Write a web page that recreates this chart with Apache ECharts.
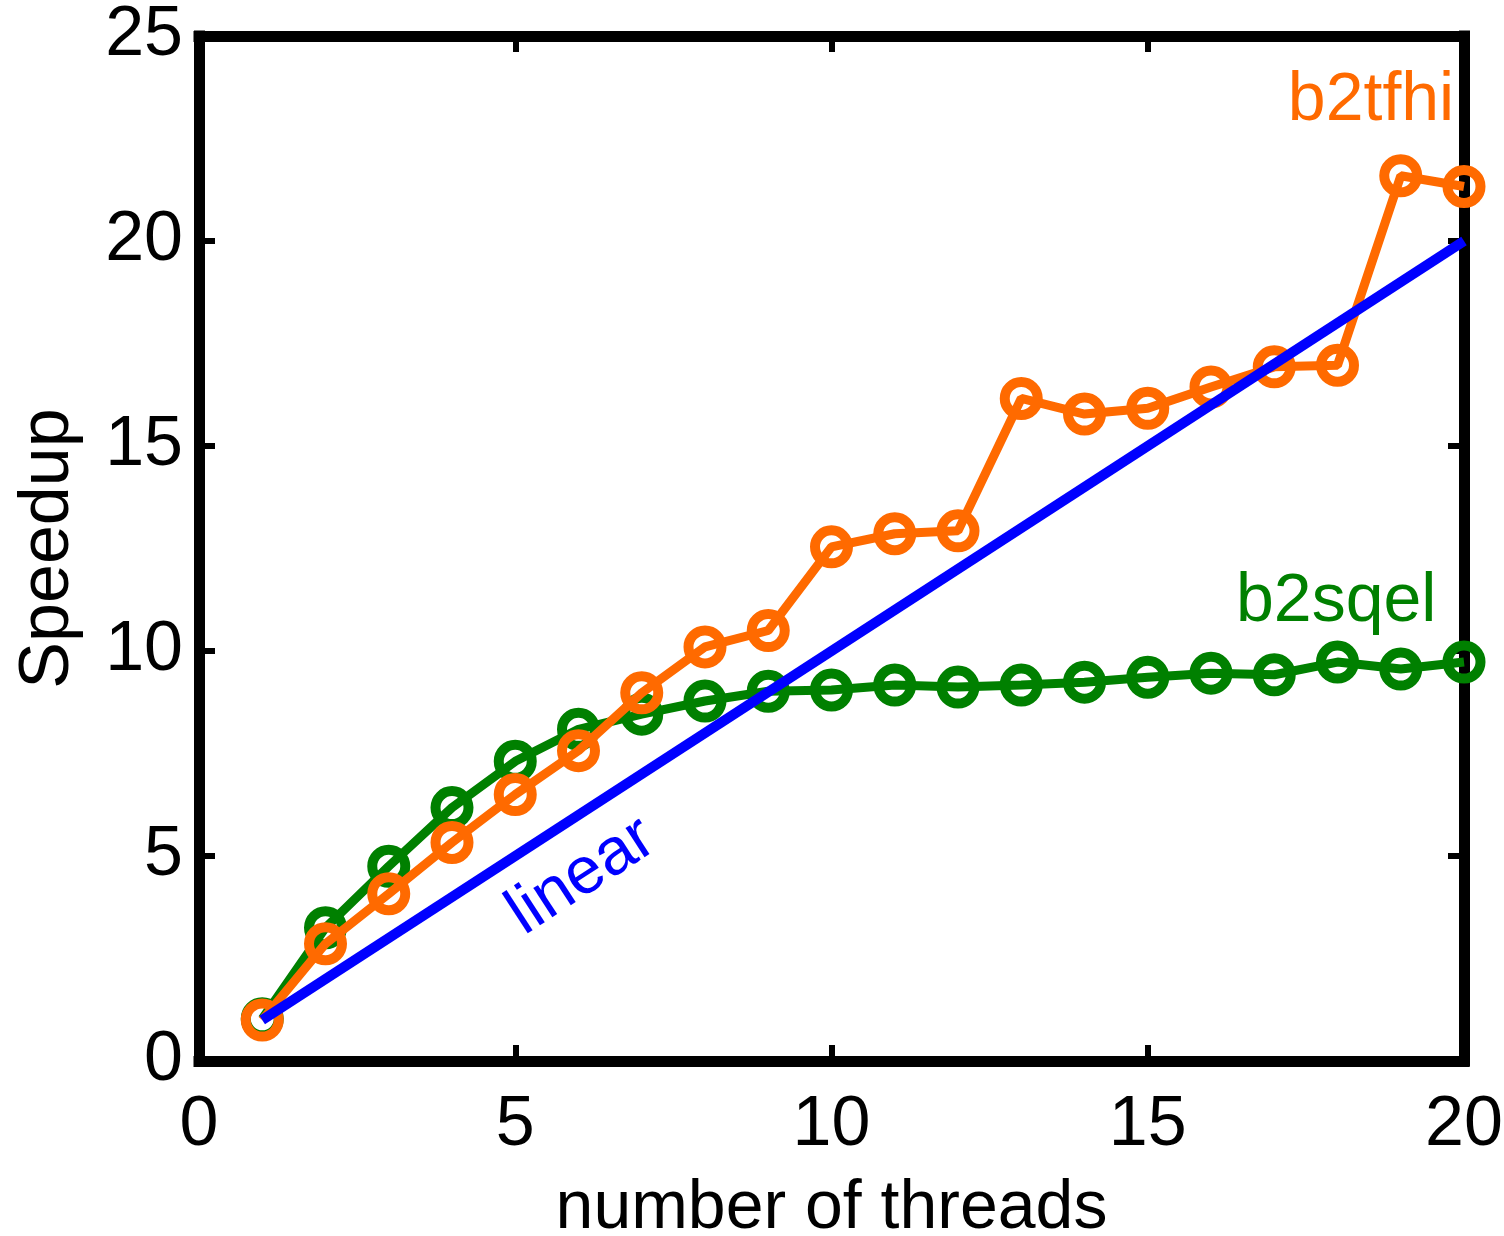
<!DOCTYPE html>
<html>
<head>
<meta charset="utf-8">
<script src="https://cdn.jsdelivr.net/npm/echarts@6/dist/echarts.min.js"></script>
<style>
  html, body { margin: 0; padding: 0; background: #fff; }
  #chart { width: 1504px; height: 1236px; }
</style>
</head>
<body>
<div id="chart"></div>
<script>
const threads = [1, 2, 3, 4, 5, 6, 7, 8, 9, 10, 11, 12, 13, 14, 15, 16, 17, 18, 19, 20];
const b2tfhi = [1.0, 2.86, 4.08, 5.33, 6.5, 7.57, 8.98, 10.1, 10.5, 12.54, 12.86, 12.93, 16.16, 15.78, 15.92, 16.44, 16.93, 16.97, 21.59, 21.33];
const b2sqel = [1.03, 3.25, 4.75, 6.18, 7.31, 8.09, 8.46, 8.78, 9.02, 9.05, 9.17, 9.12, 9.17, 9.24, 9.36, 9.46, 9.42, 9.73, 9.56, 9.73];
const linearX = [1, 20];
const linearY = [1, 20];
const xTicks = [0, 5, 10, 15, 20];
const yTicks = [0, 5, 10, 15, 20, 25];

const FONT = '"Liberation Sans", Arial, Helvetica, sans-serif';
const ORANGE = '#ff6a00';
const GREEN = '#008000';
const BLUE = '#0000ff';

function pairs(xs, ys) { return xs.map((x, i) => [x, ys[i]]); }

const axisLine = { show: true, onZero: false, lineStyle: { color: '#000', width: 11, cap: 'square' } };
const axisTick = { show: true, inside: true, length: 16, lineStyle: { color: '#000', width: 6 } };

const chart = echarts.init(document.getElementById('chart'), null, { renderer: 'canvas' });
chart.setOption({
  animation: false,
  backgroundColor: '#fff',
  grid: { left: 199, right: 40, top: 36, bottom: 175, containLabel: false, outerBoundsMode: 'none' },
  xAxis: [
    {
      type: 'value', min: xTicks[0], max: xTicks[xTicks.length - 1], interval: 5,
      position: 'bottom',
      axisLine, axisTick, splitLine: { show: false },
      axisLabel: { show: true, margin: 30, color: '#000', fontSize: 70, fontFamily: FONT },
      name: 'number of threads', nameLocation: 'middle', nameGap: 114,
      nameTextStyle: { color: '#000', fontSize: 68, fontFamily: FONT }
    },
    {
      type: 'value', min: xTicks[0], max: xTicks[xTicks.length - 1], interval: 5,
      position: 'top',
      axisLine, axisTick, splitLine: { show: false },
      axisLabel: { show: false }
    }
  ],
  yAxis: [
    {
      type: 'value', min: yTicks[0], max: yTicks[yTicks.length - 1], interval: 5,
      position: 'left',
      axisLine, axisTick, splitLine: { show: false },
      axisLabel: { show: true, margin: 16, color: '#000', fontSize: 70, fontFamily: FONT },
      name: 'Speedup', nameLocation: 'middle', nameGap: 115, nameRotate: 90,
      nameTextStyle: { color: '#000', fontSize: 70, fontFamily: FONT }
    },
    {
      type: 'value', min: yTicks[0], max: yTicks[yTicks.length - 1], interval: 5,
      position: 'right',
      axisLine, axisTick, splitLine: { show: false },
      axisLabel: { show: false }
    }
  ],
  series: [
    {
      name: 'b2sqel', type: 'line', z: 2, clip: false,
      data: pairs(threads, b2sqel),
      symbol: 'circle', symbolSize: 33,
      lineStyle: { color: GREEN, width: 9 },
      itemStyle: { color: 'rgba(0,0,0,0)', borderColor: GREEN, borderWidth: 10 },
      markPoint: {
        symbol: 'circle', symbolSize: 0, silent: true,
        label: { show: true, position: 'inside', formatter: 'b2sqel', color: GREEN, fontSize: 68, fontFamily: FONT },
        data: [{ coord: [17.98, 11.18] }]
      }
    },
    {
      name: 'b2tfhi', type: 'line', z: 3, clip: false,
      data: pairs(threads, b2tfhi),
      symbol: 'circle', symbolSize: 33,
      lineStyle: { color: ORANGE, width: 9 },
      itemStyle: { color: 'rgba(0,0,0,0)', borderColor: ORANGE, borderWidth: 10 },
      markPoint: {
        symbol: 'circle', symbolSize: 0, silent: true,
        label: { show: true, position: 'inside', formatter: 'b2tfhi', color: ORANGE, fontSize: 68, fontFamily: FONT },
        data: [{ coord: [18.53, 23.4] }]
      }
    },
    {
      name: 'linear', type: 'line', z: 4, clip: false,
      data: pairs(linearX, linearY),
      showSymbol: false, symbol: 'none',
      lineStyle: { color: BLUE, width: 10 },
      markPoint: {
        symbol: 'circle', symbolSize: 0, silent: true,
        label: { show: true, position: 'inside', formatter: 'linear', color: BLUE, fontSize: 66, fontFamily: FONT, rotate: 33 },
        data: [{ coord: [6.05, 4.5] }]
      }
    }
  ]
});
</script>
</body>
</html>
